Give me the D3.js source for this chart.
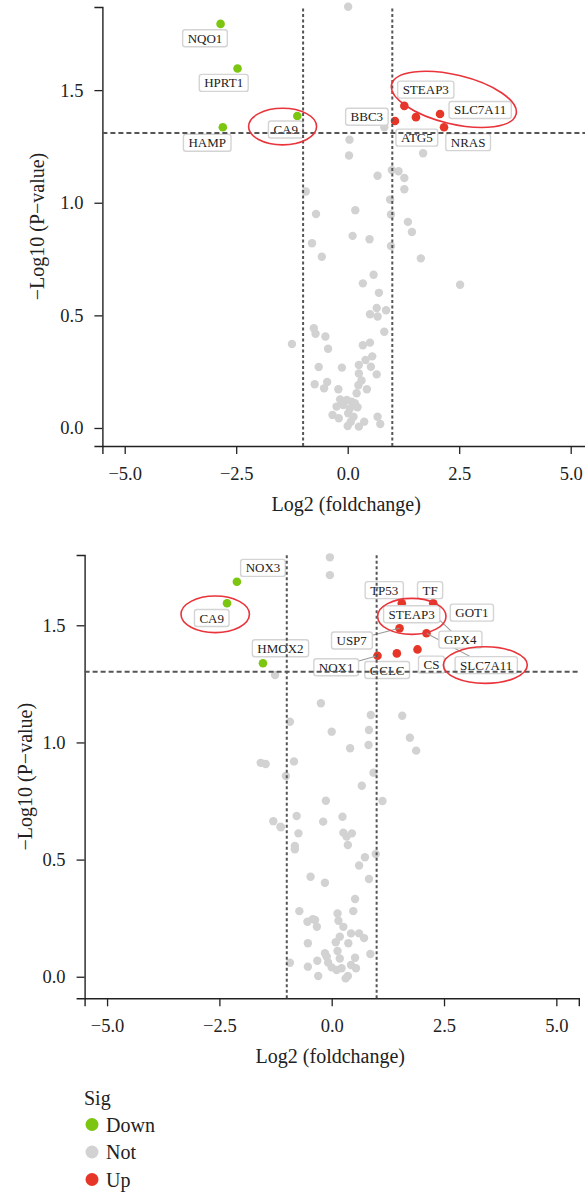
<!DOCTYPE html>
<html><head><meta charset="utf-8">
<script src="https://cdn.jsdelivr.net/npm/d3@7/dist/d3.min.js"></script>
<style>
body{margin:0;background:#fff}
svg{display:block}
svg text{font-family:"Liberation Serif","DejaVu Serif","Times New Roman",serif !important}
</style>
</head><body>
<svg id="chart" width="585" height="1194"></svg>
<script>
// ---------------- DATA ----------------
const xTicks = [-5, -2.5, 0, 2.5, 5];
const yTicks = [0, 0.5, 1.0, 1.5];
const xTitle = "Log2 (foldchange)";
const yTitle = "\u2212Log10 (P\u2212value)";
const legendTitle = "Sig";
const legendLabels = ["Down", "Not", "Up"];
const fcCut = 1;
const pCutTop = 1.31;
const pCutBottom = 1.302;

// Panel 1 (top)
const topDown = [
  {gene:"NQO1", x:-2.85, y:1.794},
  {gene:"HPRT1", x:-2.47, y:1.596},
  {gene:"HAMP", x:-2.80, y:1.335},
  {gene:"CA9", x:-1.13, y:1.385}
];
const topUp = [
  {gene:"STEAP3", x:1.27, y:1.430},
  {gene:"ATG5", x:1.53, y:1.380},
  {gene:"SLC7A11", x:2.07, y:1.394},
  {gene:"NRAS", x:2.16, y:1.335},
  {gene:"BBC3", x:1.06, y:1.363}
];
const topNot = [
  [0.01,1.87],[0.82,1.335],[0.04,1.28],[0.03,1.21],[1.69,1.22],[0.67,1.12],[1.14,1.14],
  [1.27,1.11],[1.27,1.06],[-0.94,1.05],[-0.71,0.95],[0.17,0.967],[0.95,1.014],[0.97,0.948],
  [1.35,0.915],[1.44,0.87],[-0.80,0.82],[0.11,0.853],[0.49,0.838],[0.97,0.808],[-0.58,0.76],
  [1.64,0.753],[0.58,0.68],[0.34,0.642],[2.52,0.636],[0.70,0.60],[0.65,0.533],[0.86,0.523],
  [0.50,0.505],[0.67,0.495],[-0.76,0.443],[-0.72,0.418],[-0.50,0.406],[0.82,0.427],[-1.25,0.373],
  [-0.44,0.352],[0.34,0.367],[0.50,0.379],[0.55,0.318],[0.40,0.302],[0.25,0.28],[-0.65,0.271],
  [-0.13,0.268],[0.52,0.272],[0.25,0.242],[0.65,0.238],[-0.74,0.194],[-0.46,0.204],[-0.53,0.176],
  [0.31,0.211],[0.24,0.19],[0.43,0.172],[-0.21,0.172],[0.20,0.154],[-0.17,0.127],[-0.02,0.124],
  [0.09,0.117],[0.16,0.11],[-0.25,0.095],[-0.10,0.102],[0.05,0.087],[0.22,0.092],[-0.34,0.058],
  [-0.20,0.043],[0.01,0.065],[0.13,0.05],[0.37,0.028],[0.07,0.028],[0.0,0.009],[0.25,0.006],
  [0.67,0.05],[0.73,0.018],[-0.13,0.117],[0.99,1.145]
];
// label anchor positions (data units, as placed by the label repeller)
const topLabelAt = {
  NQO1:[-3.20,1.730], HPRT1:[-2.78,1.532], HAMP:[-3.15,1.266], CA9:[-1.39,1.325],
  STEAP3:[1.75,1.502], SLC7A11:[2.97,1.412], BBC3:[0.43,1.382], ATG5:[1.55,1.289], NRAS:[2.70,1.269]
};
const topRings = [
  {cx:-1.46, cy:1.338, rx:34, ry:18.3, angle:0},
  {cx:2.38, cy:1.459, rx:64, ry:24.5, angle:13.4}
];

// Panel 2 (bottom)
const bottomDown = [
  {gene:"NOX3", x:-2.11, y:1.686},
  {gene:"CA9", x:-2.33, y:1.594},
  {gene:"HMOX2", x:-1.53, y:1.338}
];
const bottomUp = [
  {gene:"TP53", x:1.56, y:1.594},
  {gene:"TF", x:2.26, y:1.594},
  {gene:"STEAP3", x:1.80, y:1.550},
  {gene:"GPX4", x:2.25, y:1.550},
  {gene:"GOT1", x:2.90, y:1.550},
  {gene:"USP7", x:1.51, y:1.487},
  {gene:"SLC7A11", x:2.11, y:1.466},
  {gene:"CS", x:1.91, y:1.397},
  {gene:"GCLC", x:1.45, y:1.380},
  {gene:"NOX1", x:1.02, y:1.370}
];
const bottomNot = [
  [-1.26,1.288],[-0.93,1.088],[-0.04,1.79],[-0.04,1.714],[-0.24,1.167],[0.87,1.117],[1.57,1.114],
  [0.0,1.046],[0.83,1.053],[0.82,0.989],[0.41,0.975],[1.74,1.02],[1.88,0.965],[-0.84,0.919],
  [-1.02,0.857],[0.93,0.871],[0.67,0.815],[-0.13,0.751],[1.13,0.75],[-0.78,0.686],[0.24,0.683],
  [-0.19,0.662],[-1.13,0.638],[-0.74,0.612],[0.26,0.615],[0.45,0.612],[0.33,0.598],[0.36,0.562],
  [-0.82,0.558],[-0.82,0.544],[0.98,0.524],[0.74,0.51],[0.61,0.475],[-0.47,0.427],[-0.15,0.401],
  [0.83,0.417],[0.52,0.332],[-0.72,0.28],[0.48,0.28],[0.13,0.27],[-0.54,0.235],[-0.42,0.246],
  [-0.33,0.213],[-0.37,0.242],[0.15,0.239],[0.26,0.213],[0.43,0.185],[0.61,0.185],[0.72,0.165],
  [0.18,0.171],[0.09,0.147],[0.37,0.143],[-0.53,0.143],[0.13,0.11],[-0.15,0.10],[-0.11,0.085],
  [0.18,0.078],[0.52,0.081],[0.86,0.097],[-0.32,0.068],[-0.08,0.061],[-0.93,0.06],[-0.53,0.043],
  [0.0,0.04],[0.11,0.029],[0.22,0.036],[0.43,0.05],[0.54,0.036],[-0.30,0.003],[0.31,-0.007],
  [0.36,0.003],[-1.58,0.913],[-1.47,0.908],[-1.30,0.664],[-1.14,0.64]
];
const bottomLabelAt = {
  NOX3:[-1.53,1.745], CA9:[-2.67,1.531], HMOX2:[-1.14,1.402],
  TP53:[1.17,1.650], TF:[2.19,1.650], STEAP3:[1.78,1.547], GOT1:[3.12,1.554],
  USP7:[0.445,1.435], GPX4:[2.86,1.439], NOX1:[0.10,1.321], GCLC:[1.235,1.309],
  CS:[2.22,1.332], SLC7A11:[3.44,1.330]
};
const bottomRings = [
  {cx:-2.593, cy:1.547, rx:34.2, ry:18.3, angle:0},
  {cx:1.783, cy:1.538, rx:34.2, ry:18, angle:0},
  {cx:3.419, cy:1.330, rx:42, ry:18.3, angle:0}
];

// ---------------- STYLE ----------------
const colors = {Down:"#7cc510", Not:"#d2d2d2", Up:"#e53628"};
const serif = "'Liberation Serif','DejaVu Serif',serif";
const svg = d3.select("#chart").attr("font-family", serif);

function drawPanel(p){
  const x = d3.scaleLinear().domain([-5.5, 5.5]).range(p.xRange);
  const y = d3.scaleLinear().domain(p.yDomain).range(p.yRange);
  const g = svg.append("g");

  // axes
  const ax = g.append("g").attr("transform", `translate(0,${p.yRange[0]})`)
    .call(d3.axisBottom(x).tickValues(xTicks).tickFormat(d3.format(".1f"))
      .tickSizeOuter(0).tickSize(8).tickPadding(13));
  const ay = g.append("g").attr("transform", `translate(${p.xRange[0]},0)`)
    .call(d3.axisLeft(y).tickValues(yTicks).tickFormat(d3.format(".1f"))
      .tickSizeOuter(0).tickSize(8).tickPadding(11));
  [ax, ay].forEach(a => {
    a.attr("font-family", serif).attr("font-size", 18.5);
    a.select(".domain").attr("stroke", "#222").attr("stroke-width", 1.4);
    a.selectAll(".tick line").attr("stroke", "#222").attr("stroke-width", 1.3);
    a.selectAll(".tick text").attr("fill", "#222").style("font-size", "18.5px");
  });

  // points
  const pts = g.append("g");
  pts.selectAll("circle.not").data(p.not).join("circle")
    .attr("cx", d => x(d[0])).attr("cy", d => y(d[1])).attr("r", 4.2)
    .attr("fill", colors.Not);
  pts.selectAll("circle.dn").data(p.down).join("circle")
    .attr("cx", d => x(d.x)).attr("cy", d => y(d.y)).attr("r", 4.3)
    .attr("fill", colors.Down);
  pts.selectAll("circle.up").data(p.up).join("circle")
    .attr("cx", d => x(d.x)).attr("cy", d => y(d.y)).attr("r", 4.3)
    .attr("fill", colors.Up);

  // labels
  const labelled = p.down.concat(p.up);
  const segG = g.append("g");
  const labG = g.append("g");
  labelled.forEach(d => {
    const at = p.labelAt[d.gene];
    const lx = x(at[0]), ly = y(at[1]);
    const lg = labG.append("g");
    const t = lg.append("text").attr("x", lx).attr("y", ly).attr("dy", "0.35em")
      .attr("text-anchor", "middle").style("font-size", "13px").attr("fill", "#222")
      .text(d.gene);
    const bb = t.node().getBBox();
    const bx0 = bb.x - 5, bx1 = bb.x + bb.width + 5;
    const by0 = ly - 8.5, by1 = ly + 8.5;
    lg.insert("rect", "text").attr("x", bx0).attr("y", by0)
      .attr("width", bx1 - bx0).attr("height", by1 - by0).attr("rx", 2.5)
      .attr("fill", "#fff").attr("stroke", "#d4d4d4").attr("stroke-width", 1.4);
    const px = x(d.x), py = y(d.y);
    const nx = Math.max(bx0, Math.min(px, bx1)), ny = Math.max(by0, Math.min(py, by1));
    const dist = Math.hypot(px - nx, py - ny);
    if (dist > 14) {
      segG.append("line").attr("x1", px).attr("y1", py).attr("x2", lx).attr("y2", ly)
        .attr("stroke", "#9a9a9a").attr("stroke-width", 1.1);
    }
  });

  // threshold lines
  const th = g.append("g").attr("stroke", "#555").attr("stroke-width", 2).attr("fill", "none");
  [-fcCut, fcCut].forEach(v => th.append("line")
    .attr("x1", x(v)).attr("x2", x(v)).attr("y1", p.yRange[0]).attr("y2", p.yRange[1])
    .attr("stroke-dasharray", "3,2.5"));
  th.append("line").attr("x1", p.xRange[0]).attr("x2", p.xRange[1])
    .attr("y1", y(p.pCut)).attr("y2", y(p.pCut)).attr("stroke-dasharray", "5,3");

  // highlight rings
  g.append("g").selectAll("ellipse").data(p.rings).join("ellipse")
    .attr("cx", 0).attr("cy", 0).attr("rx", d => d.rx).attr("ry", d => d.ry)
    .attr("transform", d => `translate(${x(d.cx)},${y(d.cy)}) rotate(${d.angle})`)
    .attr("fill", "none").attr("stroke", "#e8343a").attr("stroke-width", 1.6);

  // titles
  g.append("text").attr("x", (p.xRange[0] + 590) / 2 - p.xTitleShift).attr("y", p.yRange[0] + 65)
    .attr("text-anchor", "middle").style("font-size", "20px").attr("fill", "#222").text(xTitle);
  g.append("text").attr("transform", `translate(${p.yTitleX},${(p.yRange[0] + p.yRange[1]) / 2}) rotate(-90)`)
    .attr("text-anchor", "middle").style("font-size", "20px").attr("fill", "#222").text(yTitle);
}

drawPanel({
  xRange:[102.4, 593], yDomain:[-0.08, 1.869], yRange:[446, 7],
  not:topNot, down:topDown, up:topUp, labelAt:topLabelAt, rings:topRings, pCut:pCutTop,
  yTitleX:43.5, xTitleShift:0
});
drawPanel({
  xRange:[84.6, 578.8], yDomain:[-0.092, 1.80], yRange:[998.3, 555],
  not:bottomNot, down:bottomDown, up:bottomUp, labelAt:bottomLabelAt, rings:bottomRings, pCut:pCutBottom,
  yTitleX:32.3, xTitleShift:7
});

// legend
const leg = svg.append("g");
leg.append("text").attr("x", 84).attr("y", 1105).style("font-size", "20px").attr("fill", "#222").text(legendTitle);
legendLabels.forEach((k, i) => {
  const cy = 1124.5 + i * 27.5;
  leg.append("circle").attr("cx", 92).attr("cy", cy).attr("r", 6.5).attr("fill", colors[k]);
  leg.append("text").attr("x", 106).attr("y", cy).attr("dy", "0.35em").style("font-size", "20px")
    .attr("fill", "#222").text(k);
});
</script>
</body></html>
